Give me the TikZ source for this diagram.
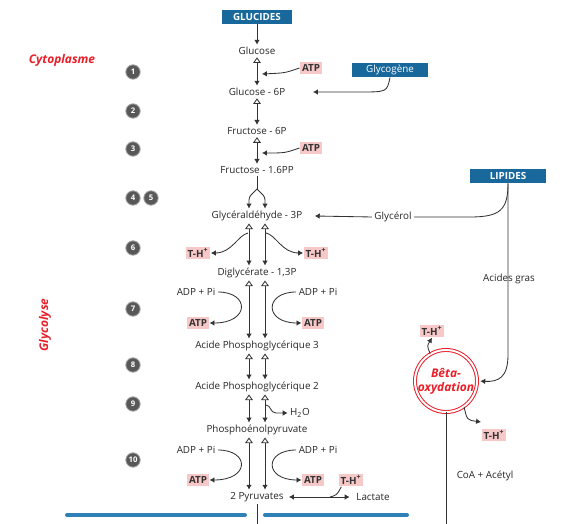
\documentclass[tikz,border=0pt]{standalone}
\usepackage{fontspec}
\setmainfont{Open Sans}
\usetikzlibrary{arrows.meta}
\definecolor{boxblue}{RGB}{24,104,156}
\definecolor{pinkbg}{RGB}{247,200,200}
\definecolor{titlered}{RGB}{232,30,40}
\definecolor{barblue}{RGB}{48,128,184}
\definecolor{stepgray}{RGB}{88,88,88}
\tikzset{
  metab/.style={font=\fontsize{7}{8}\selectfont, text=black!85, inner sep=1.5pt},
  bluebox/.style={fill=boxblue, text=white, minimum height=0.35cm, inner sep=1pt, font=\fontsize{7}{8}\selectfont},
  pinkbox/.style={fill=pinkbg, text=black!80, inner sep=1.5pt, font=\bfseries\fontsize{7}{8}\selectfont},
  stepnum/.style={circle, fill=stepgray, draw=black!35, text=white, minimum size=0.36cm, inner sep=0pt, font=\bfseries\fontsize{5.5}{6}\selectfont},
  rev/.style={{Triangle[open,length=4pt,width=5.5pt]}-{Latex[length=3.5pt,width=4pt]}},
  fwd/.style={-{Latex[length=3.5pt,width=4pt]}},
  redtitle/.style={text=titlered, font=\bfseries\itshape\fontsize{8.5}{9}\selectfont}
}
\begin{document}
\begin{tikzpicture}[x=0.025cm,y=-0.025cm,line width=0.6pt,color=black!80]
\useasboundingbox (0,0) rectangle (580,524);
\node[redtitle] (cyto) at (62,60) {Cytoplasme};
\node[redtitle, rotate=90] (glyco) at (45,325) {Glycolyse};
\foreach \n/\y in {1/72,2/111,3/149,6/248,7/309,8/365,9/404,10/460}
  \node[stepnum] (step\n) at (133,\y) {\n};
\node[stepnum] (step4) at (133,198) {4};
\node[stepnum] (step5) at (151,198) {5};

\node[bluebox, font=\bfseries\fontsize{7}{8}\selectfont, minimum width=1.75cm] (glucides) at (257,17) {GLUCIDES};
\node[metab] (glc) at (257,51) {Glucose};
\node[metab] (g6p) at (257,92) {Glucose - 6P};
\node[metab] (f6p) at (257,131) {Fructose - 6P};
\node[metab] (f16p) at (257,170) {Fructose - 1.6PP};
\node[metab] (g3p) at (257,216) {Glycéraldéhyde - 3P};
\node[metab] (dg13) at (257,273) {Diglycérate - 1,3P};
\node[metab] (apg3) at (257,346) {Acide Phosphoglycérique 3};
\node[metab] (apg2) at (257,387) {Acide Phosphoglycérique 2};
\node[metab] (pep) at (257,430) {Phosphoénolpyruvate};
\node[metab] (pyr) at (257,497) {2 Pyruvates};
\node[metab] (lac) at (373,497) {Lactate};
\node[metab] (glycerol) at (393,217) {Glycérol};
\node[bluebox, minimum width=1.9cm] (glycogene) at (390,70) {Glycogène};
\node[bluebox, font=\bfseries\fontsize{7}{8}\selectfont, minimum width=1.875cm] (lip) at (508,176) {LIPIDES};

\node[pinkbox] (atp1) at (311,68) {ATP};
\node[pinkbox] (atp2) at (311,148) {ATP};
\node[pinkbox] (th1) at (198,253) {T-H\textsuperscript{+}};
\node[pinkbox] (th2) at (316,253) {T-H\textsuperscript{+}};
\node[metab] (adp1) at (196,292) {ADP + Pi};
\node[metab] (adp2) at (318,292) {ADP + Pi};
\node[pinkbox] (atp3) at (198,323) {ATP};
\node[pinkbox] (atp4) at (313,323) {ATP};
\node[metab] (h2o) at (300,413) {H\textsubscript{2}O};
\node[metab] (adp3) at (196,450) {ADP + Pi};
\node[metab] (adp4) at (318,450) {ADP + Pi};
\node[pinkbox] (atp5) at (198,480) {ATP};
\node[pinkbox] (atp6) at (313,480) {ATP};
\node[pinkbox] (th3) at (351,480) {T-H\textsuperscript{+}};
\node[pinkbox] (th4) at (432,331) {T-H\textsuperscript{+}};
\node[pinkbox] (th5) at (494,435) {T-H\textsuperscript{+}};

\node[circle, draw=titlered, double=white, double distance=1.4pt, line width=0.7pt, minimum size=1.55cm, inner sep=0pt] (beta) at (446,381) {};
\node[align=center, text=titlered, font=\bfseries\itshape\fontsize{8.5}{10}\selectfont] (betatxt) at (beta) {Bêta-\\oxydation};
\node[metab, fill=white] (gras) at (509,279) {Acides gras};
\node[metab] (coa) at (485,476) {CoA + Acétyl};

\draw[fwd] (glucides) -- (glc);
\draw[rev] (glc) -- (g6p);
\draw[rev] (g6p) -- (f6p);
\draw[rev] (f6p) -- (f16p);
\coordinate (in1) at (262,74);
\coordinate (in2) at (313,92);
\coordinate (in3) at (262,153);
\draw[fwd] (atp1.west) .. controls (285,73) .. (in1);
\draw[fwd] (atp2.west) .. controls (285,153) .. (in3);
\draw[fwd] (glycogene.south) .. controls (387,92) .. (360,92) -- (in2);

\coordinate (split) at (257,189);
\draw (f16p) -- (split);
\draw[fwd, rounded corners=2pt] (split) -- (249,197) -- ([xshift=-0.2cm]g3p.north);
\draw[fwd, rounded corners=2pt] (split) -- (265,197) -- ([xshift=0.2cm]g3p.north);
\foreach \a/\b in {g3p/dg13,dg13/apg3,apg3/apg2,apg2/pep,pep/pyr}
  \foreach \s in {-0.2cm,0.2cm}
    \draw[rev] ([xshift=\s]\a.south) -- ([xshift=\s]\b.north);

\coordinate (c6l) at (248,233);
\coordinate (c6r) at (266,233);
\draw[fwd] (c6l) .. controls (238,235) and (232,253) .. (th1.east);
\draw[fwd] (c6r) .. controls (276,235) and (282,253) .. (th2.west);
\draw[fwd] (adp1.east) .. controls (250,292) and (250,323) .. (atp3.east);
\draw[fwd] (adp2.west) .. controls (264,292) and (264,323) .. (atp4.west);
\coordinate (c9) at (266,405);
\draw[fwd] (c9) .. controls (271,405) and (270,413) .. (276,413) -- (h2o.west);
\draw[fwd] (adp3.east) .. controls (250,450) and (250,480) .. (atp5.east);
\draw[fwd] (adp4.west) .. controls (264,450) and (264,480) .. (atp6.west);

\draw[{Latex[length=3.5pt,width=4pt]}-{Latex[length=3.5pt,width=4pt]}, shorten <=2pt, shorten >=3pt] (pyr.east) -- (lac.west);
\coordinate (c10) at (330,497);
\draw ([xshift=0.08cm]th3.south west) .. controls (337,495) .. (c10);

\draw[fwd] (glycerol.west) -- ([xshift=0.25cm]g3p.east);
\draw (glycerol.east) -- (470,217) .. controls (500,217) and (508,210) .. (lip.south);
\draw[fwd, shorten >=2pt] (lip.south) -- (508,355) .. controls (508,378) and (498,382) .. (beta.east);
\coordinate (bt) at (481,422);
\draw[fwd] (beta.120) .. controls (427,346) .. (th4.south);
\draw[fwd] (beta.-55) .. controls (467,420) .. (bt);
\coordinate (coaend) at (446,524);
\draw (beta.south) -- (coaend);
\coordinate (pyrend) at (257,524);
\draw (pyr) -- (pyrend);

\coordinate (b1) at (67,515);
\coordinate (b2) at (245,515);
\coordinate (b3) at (265,515);
\coordinate (b4) at (407,515);
\draw[barblue, line width=0.1cm, line cap=round] (b1) -- (b2) (b3) -- (b4);
\end{tikzpicture}
\end{document}
